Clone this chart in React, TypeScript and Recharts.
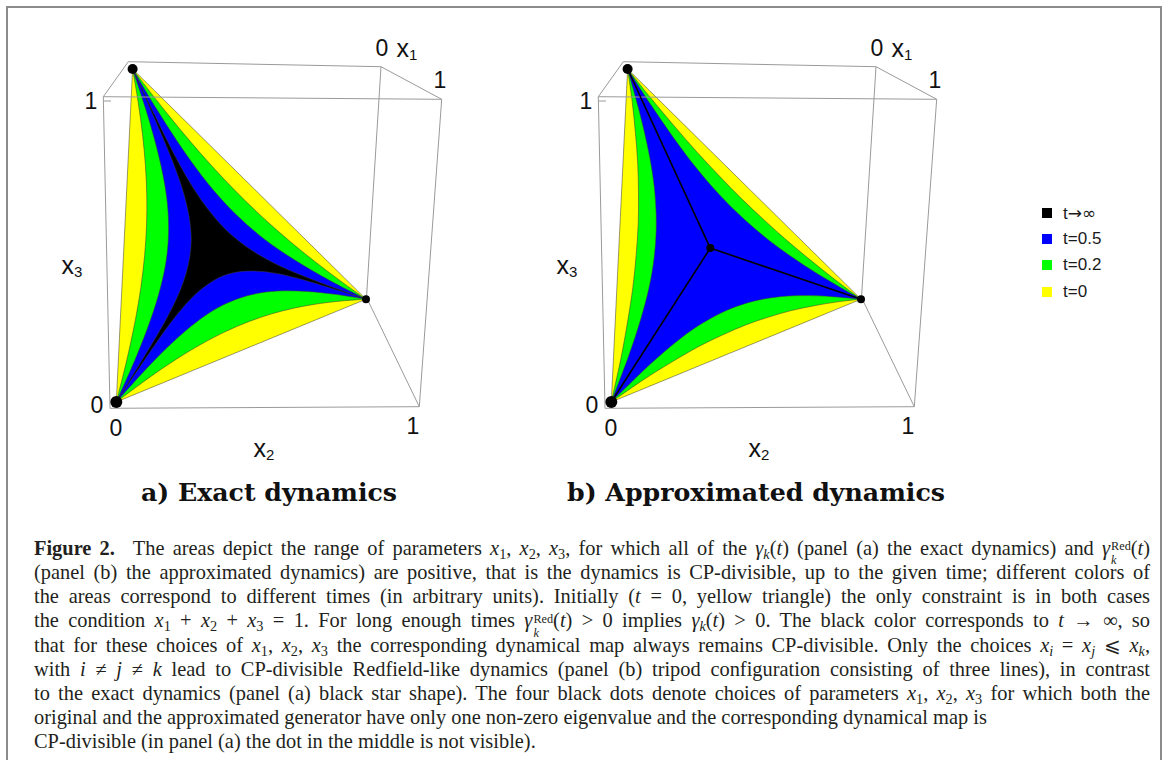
import React from 'react';
import { ScatterChart, Scatter, XAxis, YAxis } from 'recharts';

// ---------------- data ----------------
// parameter along an edge of the simplex x1+x2+x3=1 (from one corner to the next)
const PROFILE_S = [0, 0.1, 0.2, 0.3, 0.4, 0.5, 0.6, 0.7, 0.8, 0.9, 1];
// depth of each region boundary (barycentric distance from the edge toward the opposite corner)
const depthT0 = [0, 0, 0, 0, 0, 0, 0, 0, 0, 0, 0];
const exactDepthT02 = [0, 0.027, 0.048, 0.063, 0.072, 0.075, 0.072, 0.063, 0.048, 0.027, 0];
const exactDepthT05 = [0, 0.056, 0.099, 0.13, 0.149, 0.155, 0.149, 0.13, 0.099, 0.056, 0];
const exactDepthTinf = [0, 0.086, 0.154, 0.202, 0.23, 0.24, 0.23, 0.202, 0.154, 0.086, 0];
const approxDepthT02 = [0, 0.023, 0.04, 0.053, 0.06, 0.063, 0.06, 0.053, 0.04, 0.023, 0];
const approxDepthT05 = [0, 0.046, 0.082, 0.108, 0.123, 0.128, 0.123, 0.108, 0.082, 0.046, 0];

// special parameter choices (x1, x2, x3): the four black dots
const dotChoices = [
  [1, 0, 0],
  [0, 1, 0],
  [0, 0, 1],
  [1 / 3, 1 / 3, 1 / 3],
];

// bounding box of the 3D plot, in view units
const boxFront = [
  { x: 110, y: 408.3 },
  { x: 103.3, y: 96.7 },
  { x: 441.7, y: 99.3 },
  { x: 419.3, y: 406.7 },
  { x: 110, y: 408.3 },
];
const boxTop = [
  { x: 103.3, y: 96.7 },
  { x: 128.3, y: 61.7 },
  { x: 381, y: 66.7 },
  { x: 441.7, y: 99.3 },
];
const boxRight = [
  { x: 381, y: 66.7 },
  { x: 366.5, y: 297.5 },
  { x: 419.3, y: 406.7 },
];
const boxTick = [
  { x: 103.6, y: 101 },
  { x: 111, y: 101 },
];

const axisLabels = [
  { x: 382, y: 48, text: '0', sub: '' },
  { x: 407, y: 48, text: 'x', sub: '1' },
  { x: 440, y: 80, text: '1', sub: '' },
  { x: 91, y: 101, text: '1', sub: '' },
  { x: 97, y: 405, text: '0', sub: '' },
  { x: 72, y: 265, text: 'x', sub: '3' },
  { x: 116, y: 428, text: '0', sub: '' },
  { x: 413, y: 426, text: '1', sub: '' },
  { x: 264, y: 448, text: 'x', sub: '2' },
];

const titleA = [{ x: 269, y: 501, text: 'a) Exact dynamics' }];
const titleB = [{ x: 261, y: 501, text: 'b) Approximated dynamics' }];

const legendLabels = ['t→∞', 't=0.5', 't=0.2', 't=0'];

// ---------------- view / projection ----------------
const VIEW_W = 490;
const VIEW_H = 520;
// where the three simplex corners e1, e2, e3 appear, and their relative depth (perspective)
const CORNER_VIEW = [
  { x: 116.3, y: 402 },
  { x: 366, y: 299.2 },
  { x: 132.6, y: 69 },
];
const CORNER_DEPTH = [0.806, 1.078, 1];

const COLORS = {
  t0: '#ffff00',
  t02: '#00ff00',
  t05: '#0000ff',
  tinf: '#000000',
  box: '#9a9a9a',
};
const legendColors = [COLORS.tinf, COLORS.t05, COLORS.t02, COLORS.t0];
const DOT_R = [6, 4, 5, 4];

function project(b: number[]) {
  const a = b.map((v, i) => v * CORNER_DEPTH[i]);
  const s = a[0] + a[1] + a[2];
  return {
    x: (a[0] * CORNER_VIEW[0].x + a[1] * CORNER_VIEW[1].x + a[2] * CORNER_VIEW[2].x) / s,
    y: (a[0] * CORNER_VIEW[0].y + a[1] * CORNER_VIEW[1].y + a[2] * CORNER_VIEW[2].y) / s,
  };
}

// edges walked around the triangle: [from, to, opposite]
const EDGES = [
  [0, 2, 1],
  [2, 1, 0],
  [1, 0, 2],
];

function regionPoints(depth: number[]) {
  const pts: { x: number; y: number }[] = [];
  EDGES.forEach(([a, b, c]) => {
    for (let i = 0; i < PROFILE_S.length - 1; i++) {
      const s = PROFILE_S[i];
      const d = depth[i];
      const bary = [0, 0, 0];
      bary[a] = (1 - d) * (1 - s);
      bary[b] = (1 - d) * s;
      bary[c] = d;
      pts.push(project(bary));
    }
  });
  return pts;
}

const noShape = () => <g />;

function regionLine(fill: string) {
  const n = PROFILE_S.length - 1;
  return (props: any) => {
    const pts = props.points || [];
    if (pts.length < 3 * n) return <g />;
    let d = `M${pts[0].x},${pts[0].y}`;
    for (let e = 0; e < 3; e++) {
      const seg: any[] = [];
      for (let i = 0; i <= n; i++) seg.push(pts[(e * n + i) % (3 * n)]);
      for (let i = 0; i < n; i++) {
        const p0 = seg[Math.max(0, i - 1)];
        const p1 = seg[i];
        const p2 = seg[i + 1];
        const p3 = seg[Math.min(n, i + 2)];
        const c1x = p1.x + (p2.x - p0.x) / 6;
        const c1y = p1.y + (p2.y - p0.y) / 6;
        const c2x = p2.x - (p3.x - p1.x) / 6;
        const c2y = p2.y - (p3.y - p1.y) / 6;
        d += `C${c1x},${c1y} ${c2x},${c2y} ${p2.x},${p2.y}`;
      }
    }
    return (
      <path
        d={d + 'Z'}
        fill={fill}
        stroke="#3c3c3c"
        strokeOpacity={0.75}
        strokeWidth={0.7}
        strokeLinejoin="round"
      />
    );
  };
}

const dotShape = (p: any) => (
  <circle cx={p.cx} cy={p.cy} r={DOT_R[p.payload.id]} fill="#000" />
);

const axisLabelShape = (p: any) => {
  const d = p.payload;
  return (
    <text
      x={p.cx}
      y={p.cy}
      textAnchor="middle"
      dominantBaseline="central"
      fontFamily="'Liberation Sans', Arial, sans-serif"
      fontSize={d.sub ? 25 : 23}
      fill="#111"
    >
      {d.text}
      {d.sub ? (
        <tspan fontSize={15} dy={6}>
          {d.sub}
        </tspan>
      ) : null}
    </text>
  );
};

const titleShape = (len: number) => (p: any) => (
  <text
    x={p.cx}
    y={p.cy}
    textAnchor="middle"
    fontFamily="'DejaVu Serif', serif"
    fontWeight="bold"
    fontSize={24}
    fill="#111"
    textLength={len}
    lengthAdjust="spacingAndGlyphs"
  >
    {p.payload.text}
  </text>
);

type Region = { key: string; depth: number[]; color: string };

function Panel({
  regions,
  tripod,
  title,
  titleLen,
}: {
  regions: Region[];
  tripod: boolean;
  title: any[];
  titleLen: number;
}) {
  const dots = dotChoices.map((c, id) => ({ ...project(c), id }));
  const center = project(dotChoices[3]);
  return (
    <ScatterChart width={VIEW_W} height={VIEW_H} margin={{ top: 0, right: 0, bottom: 0, left: 0 }}>
      <XAxis type="number" dataKey="x" domain={[0, VIEW_W]} hide allowDataOverflow />
      <YAxis type="number" dataKey="y" domain={[0, VIEW_H]} reversed hide allowDataOverflow />
      {regions.map((r) => (
        <Scatter
          key={r.key}
          data={regionPoints(r.depth)}
          shape={noShape}
          line={regionLine(r.color)}
          isAnimationActive={false}
        />
      ))}
      {[boxFront, boxTop, boxRight, boxTick].map((pl, i) => (
        <Scatter
          key={'box' + i}
          data={pl}
          shape={noShape}
          line={{ stroke: COLORS.box, strokeWidth: 1 }}
          isAnimationActive={false}
        />
      ))}
      {tripod
        ? dotChoices.slice(0, 3).map((c, i) => (
            <Scatter
              key={'tri' + i}
              data={[center, project(c)]}
              shape={noShape}
              line={{ stroke: '#000', strokeWidth: 1.6 }}
              isAnimationActive={false}
            />
          ))
        : null}
      <Scatter data={dots} shape={dotShape} isAnimationActive={false} />
      <Scatter data={axisLabels} shape={axisLabelShape} isAnimationActive={false} />
      <Scatter data={title} shape={titleShape(titleLen)} isAnimationActive={false} />
    </ScatterChart>
  );
}

// ---------------- caption helpers ----------------
const Sub = ({ children, italic }: { children: any; italic?: boolean }) => (
  <span
    style={{
      fontSize: '0.7em',
      verticalAlign: '-0.28em',
      lineHeight: 0,
      fontStyle: italic ? 'italic' : 'normal',
    }}
  >
    {children}
  </span>
);
const X = ({ i, it }: { i: string; it?: boolean }) => (
  <>
    <i>x</i>
    <Sub italic={it}>{i}</Sub>
  </>
);
const Gk = () => (
  <>
    <i>γ</i>
    <Sub italic>k</Sub>(<i>t</i>)
  </>
);
const GRed = () => (
  <>
    <i>γ</i>
    <span
      style={{
        display: 'inline-flex',
        flexDirection: 'column',
        verticalAlign: '0.4em',
        fontSize: '0.6em',
        lineHeight: 1.15,
        marginLeft: 1,
      }}
    >
      <span>Red</span>
      <span style={{ fontStyle: 'italic' }}>k</span>
    </span>
    (<i>t</i>)
  </>
);

const captionLines = [
  <>
    <b>Figure 2.</b>
    {'\u2002 '}The areas depict the range of parameters <X i="1" />, <X i="2" />, <X i="3" />, for which all of the <Gk /> (panel (a) the exact dynamics) and <GRed />
  </>,
  <>(panel (b) the approximated dynamics) are positive, that is the dynamics is CP-divisible, up to the given time; different colors of</>,
  <>
    the areas correspond to different times (in arbitrary units). Initially (<i>t</i> = 0, yellow triangle) the only constraint is in both cases
  </>,
  <>
    the condition <X i="1" /> + <X i="2" /> + <X i="3" /> = 1. For long enough times <GRed /> &gt; 0 implies <Gk /> &gt; 0. The black color corresponds to <i>t</i> → ∞, so
  </>,
  <>
    that for these choices of <X i="1" />, <X i="2" />, <X i="3" /> the corresponding dynamical map always remains CP-divisible. Only the choices <X i="i" it /> = <X i="j" it /> ⩽ <X i="k" it />,
  </>,
  <>
    with <i>i</i> ≠ <i>j</i> ≠ <i>k</i> lead to CP-divisible Redfield-like dynamics (panel (b) tripod configuration consisting of three lines), in contrast
  </>,
  <>
    to the exact dynamics (panel (a) black star shape). The four black dots denote choices of parameters <X i="1" />, <X i="2" />, <X i="3" /> for which both the
  </>,
  <>original and the approximated generator have only one non-zero eigenvalue and the corresponding dynamical map is</>,
  <>CP-divisible (in panel (a) the dot in the middle is not visible).</>,
];

const legendText = (l: string) =>
  Array.from(l).map((ch, k) =>
    ch.charCodeAt(0) > 127 ? (
      <span key={k} style={{ fontFamily: "'DejaVu Sans', sans-serif" }}>
        {ch}
      </span>
    ) : (
      <span key={k}>{ch}</span>
    )
  );

export default function App() {
  const exactRegions: Region[] = [
    { key: 't0', depth: depthT0, color: COLORS.t0 },
    { key: 't02', depth: exactDepthT02, color: COLORS.t02 },
    { key: 't05', depth: exactDepthT05, color: COLORS.t05 },
    { key: 'tinf', depth: exactDepthTinf, color: COLORS.tinf },
  ];
  const approxRegions: Region[] = [
    { key: 't0', depth: depthT0, color: COLORS.t0 },
    { key: 't02', depth: approxDepthT02, color: COLORS.t02 },
    { key: 't05', depth: approxDepthT05, color: COLORS.t05 },
  ];
  return (
    <div style={{ position: 'absolute', left: 0, top: 0, width: 1167, height: 760, overflow: 'hidden', background: '#fff' }}>
      <div
        style={{
          position: 'absolute',
          left: 6,
          top: 6,
          width: 1156,
          height: 754,
          boxSizing: 'border-box',
          borderTop: '2px solid #8c8c8c',
          borderLeft: '2px solid #8c8c8c',
          borderRight: '2px solid #8c8c8c',
        }}
      />
      <div style={{ position: 'absolute', left: 0, top: 0 }}>
        <Panel regions={exactRegions} tripod={false} title={titleA} titleLen={256} />
      </div>
      <div style={{ position: 'absolute', left: 495, top: 0 }}>
        <Panel regions={approxRegions} tripod={true} title={titleB} titleLen={378} />
      </div>
      <div style={{ position: 'absolute', left: 1042, top: 200, fontFamily: "'Liberation Sans', Arial, sans-serif", fontSize: 17, color: '#1a1a1a' }}>
        {legendLabels.map((l, i) => (
          <div key={l} style={{ display: 'flex', alignItems: 'center', height: 26.2 }}>
            <span style={{ display: 'inline-block', width: 10, height: 10, background: legendColors[i], marginRight: 11 }} />
            <span>{legendText(l)}</span>
          </div>
        ))}
      </div>
      <div
        style={{
          position: 'absolute',
          left: 34,
          top: 536,
          width: 1116,
          fontFamily: "'Liberation Serif', 'Times New Roman', serif",
          fontSize: 20.4,
          color: '#231f20',
        }}
      >
        {captionLines.map((ln, i) => (
          <div
            key={i}
            style={{
              height: 24.15,
              lineHeight: '24.15px',
              whiteSpace: 'nowrap',
              textAlign: i < 7 ? 'justify' : 'left',
              textAlignLast: i < 7 ? 'justify' : 'left',
            }}
          >
            {ln}
          </div>
        ))}
      </div>
    </div>
  );
}
